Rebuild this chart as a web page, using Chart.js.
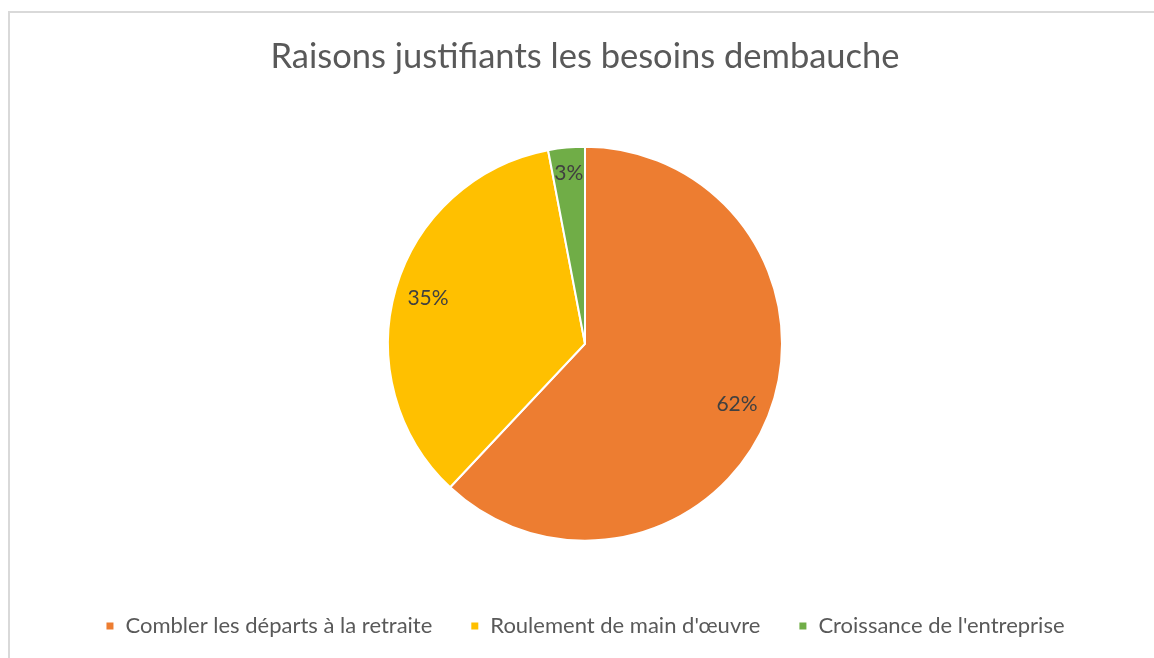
<!DOCTYPE html>
<html>
<head>
<meta charset="utf-8">
<script src="https://cdn.jsdelivr.net/npm/chart.js@4/dist/chart.umd.min.js"></script>
<style>
  html, body { margin: 0; padding: 0; background: #fff; }
  #box {
    position: absolute; left: 8px; top: 11px; width: 1146px; height: 647px;
    border-left: 2px solid #d9d9d9; border-top: 2px solid #d9d9d9;
  }
  #wrap { position: absolute; left: 0; top: 0; width: 1144px; height: 645px; }
</style>
</head>
<body>
<div id="box"><div id="wrap"><canvas id="pieChart"></canvas></div></div>
<script>
// chart data
const labels = ["Combler les départs à la retraite", "Roulement de main d'œuvre", "Croissance de l'entreprise"];
const values = [62, 35, 3];
const colors = ["#ED7D31", "#FFC000", "#70AD47"];

const fontName = "Lato, 'Open Sans', sans-serif";

// labels inside the slices, a bit in from the edge
const sliceLabels = {
    id: 'sliceLabels',
    afterDatasetsDraw(chart) {
        const ctx = chart.ctx;
        const meta = chart.getDatasetMeta(0);
        const total = values.reduce((a, b) => a + b, 0);
        ctx.save();
        ctx.font = "21px " + fontName;
        ctx.fillStyle = "#404040";
        ctx.textAlign = "center";
        ctx.textBaseline = "middle";
        meta.data.forEach(function (arc, i) {
            const p = arc.getProps(['x', 'y', 'startAngle', 'endAngle', 'outerRadius'], true);
            const mid = (p.startAngle + p.endAngle) / 2;
            const r = p.outerRadius * (values[i] < 5 ? 0.87 : 0.83);
            const pct = Math.round(values[i] / total * 100) + "%";
            ctx.fillText(pct, p.x + Math.cos(mid) * r, p.y + Math.sin(mid) * r);
        });
        ctx.restore();
    }
};

const ctx = document.getElementById('pieChart');

new Chart(ctx, {
    type: 'pie',
    data: {
        labels: labels,
        datasets: [{
            data: values,
            backgroundColor: colors,
            borderColor: "#ffffff",
            borderWidth: 2
        }]
    },
    options: {
        responsive: true,
        maintainAspectRatio: false,
        animation: false,
        radius: 197,
        layout: { padding: { left: 6, bottom: 11 } },
        plugins: {
            title: {
                display: true,
                text: "Raisons justifiants les besoins dembauche",
                color: "#595959",
                font: { family: fontName, size: 34.5, weight: 'normal' },
                padding: { top: 23, bottom: 33 }
            },
            legend: {
                position: 'bottom',
                labels: {
                    color: "#595959",
                    font: { family: fontName, size: 22 },
                    boxWidth: 9,
                    boxHeight: 9,
                    padding: 38
                }
            },
            tooltip: { enabled: false }
        }
    },
    plugins: [sliceLabels]
});
</script>
</body>
</html>
